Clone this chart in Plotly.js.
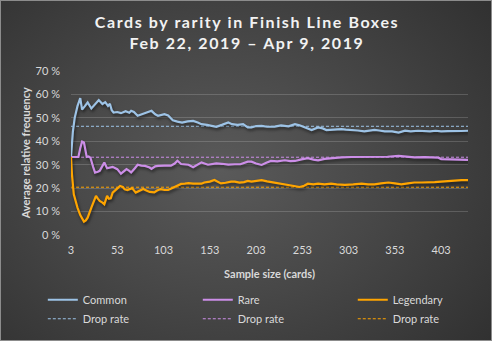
<!DOCTYPE html>
<html>
<head>
<meta charset="utf-8">
<script src="https://cdn.plot.ly/plotly-3.0.1.min.js"></script>
<style>
  html, body { margin: 0; padding: 0; background: #2b2b2b; }
  #chart {
    width: 492px; height: 341px; box-sizing: border-box;
    border: 1px solid #8c8c8c;
    background: radial-gradient(ellipse 75% 85% at 45% 50%, #5a5a5a 0%, #474747 45%, #2e2e2e 100%);
  }
  .gtitle { letter-spacing: 1.6px; }
  .scatterlayer .trace:nth-child(n+4) .js-line { filter: drop-shadow(1px 2px 1.5px rgba(0,0,0,0.55)); }
</style>
</head>
<body>
<div id="chart"></div>
<script>
// Sample sizes (cards) and average relative frequency (%) per rarity
const commonN = [3,5,7,10,13,15,18,21,25,29,33,37,40,43,45,47,49,53,57,62,66,68,71,75,79,84,90,94,97,100,104,108,113,118,123,129,135,140,144,150,156,160,166,173,177,183,189,194,198,203,209,215,223,230,238,245,250,254,258,263,270,275,279,287,295,300,306,313,320,325,331,336,342,350,357,364,370,378,385,391,397,403,410,417,425,432];
const commonV = [33.3,44,50,55,58.4,53.5,55,56.6,54,56,57.6,55.9,56.7,55.1,56,53.3,52.3,52.5,52,52.8,52.2,53,52.5,50.9,51.6,52.2,53,51.5,50.9,51.2,51.6,51,49,48.4,48,48.5,48.7,48,47.3,47,46.6,46.2,47,48,47.3,47,47.3,45.9,45.9,46.5,46.6,46.2,46.3,46.8,46.4,47.3,46.8,46.2,45.8,44.8,45.9,45.5,44.8,45.0,45.2,45.0,44.9,44.6,44.2,44.6,44.9,44.6,44.2,44.2,43.7,44.5,44.2,44.5,44.3,44.2,44.5,44.2,44.3,44.2,44.4,44.5];

const rareN = [3,7,11,13,15,17,20,22,24,27,29,32,34,37,39,42,45,48,51,53,57,60,63,66,68,72,75,79,83,88,90,94,97,104,111,115,118,122,126,130,135,140,144,151,155,160,166,173,180,186,194,198,203,209,214,219,226,234,240,245,252,259,265,270,277,284,295,306,318,331,345,357,365,374,385,395,400,403,410,417,425,432];
const rareV = [33.3,33.3,33.3,37,39.9,39.5,33.3,33.5,33,29,26.6,27,27.4,29.5,30.9,28.5,28.8,29.1,28.5,28.1,26.2,27,28.1,27.4,26.7,28.5,30,29.6,29.5,28.8,28.2,29.3,29.5,29.6,29.6,30.5,31.7,30.3,30.2,30,28.9,30.2,31,30,30.4,30.6,30.4,30,30.2,30.2,31.3,31.3,30.5,29.9,30.8,31.6,31.4,31.9,31.5,31.6,32.3,32.8,32.2,31.9,32.5,32.8,33.1,33.3,33.3,33.3,33.4,33.8,33.4,33.1,33.2,33.0,33.0,32.4,32.4,32.4,32.3,32.1];

const legendaryN = [3,4,6,8,10,13,17,19,21,25,30,32,34,37,39,42,44,46,48,52,56,59,61,64,69,73,77,81,85,88,93,96,100,104,108,114,118,122,126,130,135,139,144,147,153,158,162,165,170,176,180,185,190,194,198,203,209,215,223,228,234,240,245,250,255,259,265,270,277,284,290,299,308,317,324,331,338,346,353,360,367,374,382,389,396,403,410,418,425,432];
const legendaryV = [33.3,26,17.4,14,11.7,8.5,5.7,6.2,7.4,11.7,16.7,15.5,14.5,13.8,13.1,16.7,15.5,15.7,18.1,19.5,20.9,20.5,19.5,19.2,20,18.1,18.9,19.6,18.9,18.4,18.2,19,19.6,19.2,19.2,20.3,20.9,21.8,21.9,22.1,21.9,21.8,21.9,22.4,22.8,23.5,22.6,22,22.3,22.8,22.8,22.4,22.6,23.1,22.8,23,23.4,22.9,22.4,22,21.4,21.2,20.8,20.5,21,21.9,21.6,21.9,21.6,21.9,21.6,21.4,21.6,21.9,21.6,21.6,22,22.4,22.0,21.6,22.0,22.4,22.4,22.4,22.6,22.8,23,23.4,23.4,23.4];

// Drop rates (%)
const dropN = [3, 432];
const dropCommon = [46.4, 46.4];
const dropRare = [33.2, 33.2];
const dropLegendary = [20.4, 20.4];

const xTickVals = [3,53,103,153,203,253,303,353,403];
const yTickVals = [0,10,20,30,40,50,60,70];

const cCommon = '#9dc3e6', cRare = '#cc8ee8', cLeg = '#ffa500';
const FONT = 'Lato, "Open Sans", sans-serif';

const solid = (x, y, name, color, lg) => ({
  x, y, name, type: 'scatter', mode: 'lines', legend: lg,
  line: { color, width: 2.2 }, hoverinfo: 'skip'
});
const dashed = (x, y, color, lg) => ({
  x, y, name: 'Drop rate', type: 'scatter', mode: 'lines', legend: lg,
  line: { color, width: 1, dash: '3px,2px' }, hoverinfo: 'skip'
});

const traces = [
  dashed(dropN, dropCommon, cCommon, 'legend'),
  dashed(dropN, dropRare, cRare, 'legend2'),
  dashed(dropN, dropLegendary, cLeg, 'legend3'),
  solid(commonN, commonV, 'Common', cCommon, 'legend'),
  solid(rareN, rareV, 'Rare', cRare, 'legend2'),
  solid(legendaryN, legendaryV, 'Legendary', cLeg, 'legend3'),
];
traces[0].legendrank = 2; traces[3].legendrank = 1;
traces[1].legendrank = 2; traces[4].legendrank = 1;
traces[2].legendrank = 2; traces[5].legendrank = 1;

const legendBase = (x) => ({
  xref: 'container', yref: 'container', x, y: 0.096, xanchor: 'left', yanchor: 'middle',
  orientation: 'v', bgcolor: 'rgba(0,0,0,0)', borderwidth: 0,
  font: { family: FONT, size: 11, color: '#d9d9d9' }, itemwidth: 30, tracegroupgap: 0
});

const layout = {
  width: 492, height: 341,
  paper_bgcolor: 'rgba(0,0,0,0)', plot_bgcolor: 'rgba(0,0,0,0)',
  margin: { l: 70, r: 25, t: 70, b: 107, autoexpand: false },
  font: { family: FONT, color: '#d9d9d9', size: 11 },
  title: {
    text: 'Cards by rarity in Finish Line Boxes<br>Feb 22, 2019 – Apr 9, 2019',
    font: { family: FONT, size: 16, color: '#f2f2f2', weight: 'bold' },
    x: 0.5, xanchor: 'center', xref: 'container', yref: 'container', y: 0.92, yanchor: 'top'
  },
  xaxis: {
    range: [3, 432], tickvals: xTickVals, ticktext: xTickVals.map(String),
    showgrid: false, zeroline: false, showline: false, ticks: '',
    ticklabelstandoff: 7,
    tickfont: { family: FONT, size: 11, color: '#d9d9d9' },
    title: { text: 'Sample size (cards)', font: { family: FONT, size: 11, color: '#d9d9d9', weight: 'bold' } }
  },
  yaxis: {
    range: [0, 70], tickvals: yTickVals, ticktext: yTickVals.map(v => v + ' %'),
    showgrid: true, gridcolor: 'rgba(255,255,255,0.17)', gridwidth: 1,
    zeroline: false, showline: false, ticks: '', ticklen: 0,
    ticklabelstandoff: 10,
    tickfont: { family: FONT, size: 11, color: '#d9d9d9' }
  },
  annotations: [{
    text: 'Average relative frequency', textangle: -90, showarrow: false,
    xref: 'paper', yref: 'paper', x: -0.115, y: 0.5, xanchor: 'center', yanchor: 'middle',
    font: { family: FONT, size: 11, color: '#d9d9d9', weight: 'bold' }
  }],
  showlegend: true,
  legend: legendBase(0.085),
  legend2: legendBase(0.4),
  legend3: legendBase(0.715),
};

Plotly.newPlot('chart', traces, layout, { staticPlot: true, displayModeBar: false });
</script>
</body>
</html>
